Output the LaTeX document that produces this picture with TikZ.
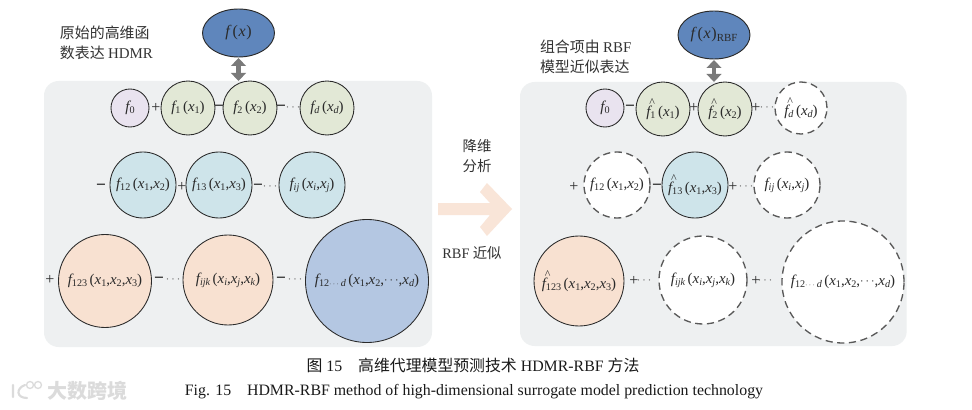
\documentclass[tikz,border=0pt]{standalone}
\usepackage{fontspec}
\setmainfont{Liberation Serif}
\newfontfamily\cjk{Noto Sans CJK SC}
\usetikzlibrary{arrows.meta,shapes.geometric}
\newcommand\sbs[1]{\raisebox{-.3ex}{\scalebox{.68}{#1}}}
\newcommand\vr[1]{{\itshape x}\sbs{\itshape #1}}
\newcommand\vn[1]{{\itshape x}\sbs{#1}}
\newcommand\fn{{\itshape f}}
\newcommand\hf{\rlap{\raisebox{1.45ex}{\kern.2em\scalebox{.8}{\^{}}}}{\itshape f}}
\newcommand\dts{\raisebox{.1ex}{\scalebox{.85}{$\cdots$}}}
\definecolor{panelc}{HTML}{EEF0F1}
\definecolor{topc}{HTML}{5F86BC}
\definecolor{zeroc}{HTML}{E9E3EF}
\definecolor{onec}{HTML}{E2E8D6}
\definecolor{twoc}{HTML}{CEE4EA}
\definecolor{threec}{HTML}{F8E1D1}
\definecolor{bigc}{HTML}{B4C7E2}
\definecolor{inkc}{HTML}{2A2A2A}
\tikzset{
  x=.75pt,y=-.75pt,
  every node/.style={inner sep=0pt,outer sep=0pt,text=inkc,font=\fontsize{11.2pt}{12pt}\selectfont},
  panel/.style={fill=panelc,draw=none,rounded corners=11pt},
  topnode/.style={ellipse,draw=inkc,line width=.7pt,fill=topc,minimum width=54pt,minimum height=36pt},
  term/.style={circle,draw=inkc,line width=.65pt,minimum size=#1*.75pt},
  gone/.style={circle,draw=black!65,fill=white,line width=1pt,dash pattern=on 5.4pt off 3.4pt,minimum size=#1*.75pt},
  op/.style={font=\fontsize{12pt}{12pt}\selectfont},
  opb/.style={font=\bfseries\fontsize{13pt}{12pt}\selectfont},
  dotsn/.style={font=\fontsize{11pt}{11pt}\selectfont,text=black!60},
  note/.style={font=\fontsize{11.2pt}{15pt}\selectfont\cjk,align=left,anchor=west,text=black!80},
  middle/.style={font=\fontsize{10.8pt}{14.5pt}\selectfont\cjk,align=center,text=black!80},
  caption/.style={font=\fontsize{11.9pt}{12pt}\selectfont,text=black!90},
  biarrow/.style={draw=black!52,line width=3.3pt,{Triangle[width=11pt,length=6pt]}-{Triangle[width=11pt,length=6pt]},shorten >=0pt,shorten <=0pt},
}
\begin{document}
\begin{tikzpicture}
\useasboundingbox (0,0) rectangle (972,410);
\fill[white] (0,0) rectangle (972,410);
% panels
\node[panel,anchor=north west,minimum width=291pt,minimum height=199.5pt] (LP) at (44,81) {};
\node[panel,anchor=north west,minimum width=290pt,minimum height=198pt] (RP) at (520,82) {};
% left
\node[topnode] (Ltop) at (238.5,33) {\fontsize{12pt}{12pt}\selectfont\fn\,(\kern.5pt{\itshape x}\kern.5pt)};
\node[term=38,fill=zeroc] (L0) at (130,108) {\fn\sbs{0}};
\node[term=54,fill=onec] (L1) at (188,108) {\fn\sbs{1}\,(\vn{1})};
\node[term=54,fill=onec] (L2) at (250,108) {\fn\sbs{2}\,(\vn{2})};
\node[term=54,fill=onec] (Ld) at (327,108) {\fn\sbs{\itshape d}\,(\vr{d})};
\node[term=66,fill=twoc] (L12) at (143,185) {\fn\sbs{12}\,(\vn{1},\vn{2})};
\node[term=66,fill=twoc] (L13) at (219,185) {\fn\sbs{13}\,(\vn{1},\vn{3})};
\node[term=66,fill=twoc] (Lij) at (312,185) {\fn\sbs{\itshape ij}\,(\vr{i},\vr{j})};
\node[term=93,fill=threec] (L123) at (105,281) {\fn\sbs{123}\,(\vn{1},\vn{2},\vn{3})};
\node[term=90,fill=threec] (Lijk) at (228,280) {\fn\sbs{\itshape ijk}\,(\vr{i},\vr{j},\vr{k})};
\node[term=123,fill=bigc] (Lall) at (367,281) {\fn\sbs{12\dts\,\itshape d}\,(\vn{1},\vn{2},\dts,\vr{d})};
\draw[biarrow] (Ltop.south) ++(0,1) coordinate (La) -- (La |- L2.north);
\node[op] (lo1) at (156,108) {+};
\node[opb] (lo2) at (219,108) {−};
\node[opb] (lo3) at (281,108) {−};
\node[dotsn] (ld1) at (293,108) {\dts};
\node[opb] (lo4) at (101,187) {−};
\node[op] (lo5) at (182,187) {+};
\node[opb] (lo6) at (258,187) {−};
\node[dotsn] (ld2) at (270,187) {\dts};
\node[op] (lo7) at (50,280) {+};
\node[opb] (lo8) at (159,280) {−};
\node[dotsn] (ld3) at (173,280) {\dts};
\node[opb] (lo9) at (281,280) {−};
\node[dotsn] (ld4) at (295,280) {\dts};
% right
\node[topnode] (Rtop) at (714,35) {\fontsize{12pt}{12pt}\selectfont\fn\,(\kern.5pt{\itshape x}\kern.5pt)\sbs{RBF}};
\node[term=38,fill=zeroc] (R0) at (605,108) {\fn\sbs{0}};
\node[term=54,fill=onec] (R1) at (663,109) {\hf\sbs{1}\,(\vn{1})};
\node[term=54,fill=onec] (R2) at (725,109) {\hf\sbs{2}\,(\vn{2})};
\node[gone=52] (Rd) at (801,108) {\hf\sbs{\itshape d}\,(\vr{d})};
\node[gone=66] (R12) at (617,185) {\fn\sbs{12}\,(\vn{1},\vn{2})};
\node[term=66,fill=twoc] (R13) at (695,185) {\hf\sbs{13}\,(\vn{1},\vn{3})};
\node[gone=66] (Rij) at (787,185) {\fn\sbs{\itshape ij}\,(\vr{i},\vr{j})};
\node[term=90,fill=threec] (R123) at (579,281) {\hf\sbs{123}\,(\vn{1},\vn{2},\vn{3})};
\node[gone=88] (Rijk) at (703,280) {\fn\sbs{\itshape ijk}\,(\vr{i},\vr{j},\vr{k})};
\node[gone=122] (Rall) at (843,282) {\fn\sbs{12\dts\,\itshape d}\,(\vn{1},\vn{2},\dts,\vr{d})};
\draw[biarrow] (Rtop.south) ++(0,1) coordinate (Ra) -- (Ra |- R2.north);
\node[opb] (ro1) at (630,108) {−};
\node[op] (ro2) at (694,108) {+};
\node[op] (ro3) at (756,108) {+};
\node[dotsn] (rd1) at (767,108) {\dts};
\node[op] (ro4) at (574,187) {+};
\node[opb] (ro5) at (657,187) {−};
\node[op] (ro6) at (733,187) {+};
\node[dotsn] (rd2) at (746,187) {\dts};
\node[op] (ro7) at (634,281) {+};
\node[dotsn] (rd3) at (644,281) {\dts};
\node[op] (ro8) at (756,281) {+};
\node[dotsn] (rd4) at (765,281) {\dts};
% labels
\node[note] (n1) at (60,43) {原始的高维函\\数表达 {\rmfamily HDMR}};
\node[note] (n2) at (540,57) {组合项由 {\rmfamily RBF}\\模型近似表达};
\node[middle] (m1) at (477,156) {降维\\分析};
\node[middle] (m2) at (472,253) {{\rmfamily RBF} 近似};
% big arrow
\fill[threec!85!white] (438,203) -- (490,203) -- (480,192) -- (487,183) -- (512,209) -- (487,236) -- (480,227) -- (490,215) -- (438,215) -- cycle;
% captions
\node[caption] (c1) at (473,365) {{\cjk 图} 15\quad {\cjk 高维代理模型预测技术} HDMR-RBF {\cjk 方法}};
\node[caption] (c2) at (474,392) {Fig. 15\quad HDMR-RBF method of high-dimensional surrogate model prediction technology};
% watermark
\node[font=\bfseries\fontsize{15pt}{16pt}\selectfont\cjk,text=black!14,anchor=west] (wm) at (47,391) {大数跨境};
\draw[black!14,line width=1.6pt,line cap=round] (13,385) -- (13,397) (25,385) .. controls (16,388) and (16,398) .. (27,398);
\draw[black!14,line width=1pt] (30,385) circle (3.5) (38,385) circle (3.5);
\end{tikzpicture}
\end{document}
